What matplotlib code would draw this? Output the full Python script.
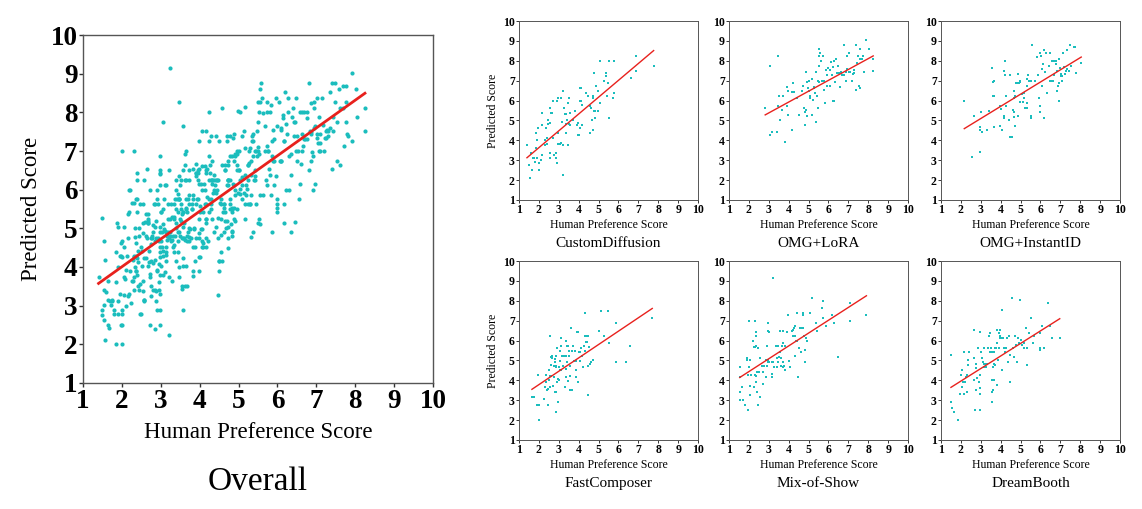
import matplotlib

matplotlib.use("Agg")
import matplotlib.pyplot as plt
import numpy as np

# per-method scatter data (human score, predicted score)
custom_x = [1.4, 1.5, 1.57, 1.6, 1.65, 1.7, 1.75, 1.8, 1.85, 1.85, 1.9, 1.9, 1.97, 2.0, 2.0, 2.1,
            2.15, 2.15, 2.15, 2.3, 2.33, 2.37, 2.4, 2.42, 2.45, 2.45, 2.55, 2.55, 2.55, 2.57, 2.62,
            2.67, 2.7, 2.72, 2.75, 2.87, 2.87, 2.9, 2.9, 2.97, 2.97, 2.97, 3.05, 3.1, 3.1, 3.18, 3.2,
            3.2, 3.22, 3.25, 3.3, 3.35, 3.35, 3.37, 3.4, 3.45, 3.47, 3.5, 3.5, 3.55, 3.58, 3.72, 3.8,
            3.9, 3.97, 3.97, 4.0, 4.05, 4.05, 4.08, 4.13, 4.13, 4.17, 4.18, 4.38, 4.47, 4.55, 4.55,
            4.63, 4.67, 4.72, 4.72, 4.73, 4.77, 4.78, 4.8, 4.82, 4.87, 4.97, 4.97, 5.05, 5.05, 5.28,
            5.35, 5.35, 5.4, 5.47, 5.52, 5.55, 5.72, 5.8, 5.8, 6.65, 6.87, 6.87, 7.77]
custom_y = [3.75, 2.75, 2.12, 3.35, 2.5, 3.12, 3.12, 2.9, 3.62, 4.38, 3.12, 4.0, 4.62, 2.88, 2.5, 3.0,
            5.38, 3.25, 4.75, 3.75, 4.0, 4.62, 3.8, 4.12, 5.0, 4.8, 4.88, 5.62, 3.38, 3.12, 5.38,
            5.38, 4.12, 6.0, 3.25, 3.12, 3.38, 6.0, 2.88, 6.12, 3.8, 4.38, 3.8, 6.12, 3.88, 4.9, 6.5,
            2.25, 3.75, 5.62, 5.3, 5.3, 4.38, 4.8, 5.0, 5.88, 3.75, 4.8, 6.12, 5.38, 4.75, 5.0, 5.5,
            4.75, 4.25, 4.88, 4.25, 6.0, 6.62, 4.62, 6.62, 6.0, 4.75, 5.8, 6.38, 6.25, 5.75, 4.38,
            5.62, 5.0, 6.25, 6.12, 4.5, 5.5, 7.38, 5.12, 5.5, 6.75, 6.5, 5.5, 5.88, 8.0, 7.0,
            7.4, 7.25, 6.25, 6.88, 8.0, 5.12, 6.12, 6.38, 8.0, 7.12, 7.5, 8.25, 7.75]

lora_x = [2.82, 3.06, 3.06, 3.14, 3.43, 3.48, 3.48, 3.53, 3.56, 3.66, 3.73, 3.82, 3.9, 3.93, 3.95,
          3.98, 4.15, 4.15, 4.24, 4.27, 4.4, 4.54, 4.66, 4.74, 4.78, 4.83, 4.83, 4.88, 4.91, 4.88,
          4.91, 4.95, 5.0, 5.0, 5.05, 5.08, 5.17, 5.17, 5.22, 5.25, 5.28, 5.33, 5.38, 5.38, 5.42,
          5.45, 5.45, 5.5, 5.52, 5.5, 5.55, 5.59, 5.55, 5.62, 5.67, 5.72, 5.76, 5.79, 5.84, 5.89,
          5.92, 5.92, 6.0, 6.06, 6.09, 6.14, 6.18, 6.23, 6.23, 6.26, 6.3, 6.35, 6.4, 6.43, 6.46,
          6.51, 6.6, 6.63, 6.68, 6.77, 6.8, 6.87, 6.9, 6.94, 6.94, 7.02, 7.02, 7.1, 7.19, 7.24,
          7.27, 7.31, 7.41, 7.41, 7.44, 7.48, 7.53, 7.58, 7.61, 7.61, 7.69, 7.75, 7.78, 7.91, 8.03,
          8.25, 8.25]
lora_y = [5.63, 7.76, 4.29, 4.4, 4.4, 8.26, 5.75, 6.25, 5.03, 5.53, 6.25, 3.9, 6.67, 5.75, 6.5,
          5.25, 6.42, 4.52, 6.87, 6.42, 6.13, 5.25, 6.5, 6.75, 5.63, 5.41, 4.79, 7.43, 6.92, 5.53,
          5.2, 6.64, 7.0, 6.5, 6.25, 6.13, 7.09, 5.25, 6.03, 6.64, 6.7, 6.37, 7.43, 4.91, 6.25,
          5.63, 7.0, 7.76, 6.92, 8.26, 8.6, 8.38, 8.26, 7.98, 7.0, 8.26, 7.0, 6.53, 5.87, 7.55,
          7.3, 6.75, 7.65, 6.75, 7.55, 7.93, 7.26, 7.71, 6.0, 8.01, 6.0, 6.92, 8.1, 7.38, 7.76,
          7.38, 6.67, 7.43, 7.3, 7.3, 8.77, 7.43, 6.98, 7.6, 8.26, 8.38, 7.43, 7.43, 7.0, 7.34,
          7.55, 7.38, 6.53, 8.77, 7.88, 8.26, 6.75, 8.6, 6.64, 8.1, 8.1, 8.26, 7.43, 9.02, 8.6,
          8.1, 7.51]

instant_x = [2.17, 2.56, 2.68, 2.95, 2.95, 2.98, 3.01, 3.06, 3.32, 3.4, 3.57, 3.62, 3.62, 3.65,
             3.65, 3.68, 3.95, 3.99, 4.02, 4.07, 4.15, 4.15, 4.15, 4.24, 4.24, 4.29, 4.29, 4.41,
             4.49, 4.49, 4.57, 4.62, 4.66, 4.66, 4.66, 4.69, 4.74, 4.74, 4.79, 4.83, 4.86, 4.89,
             4.91, 4.96, 4.96, 4.99, 5.08, 5.13, 5.16, 5.19, 5.24, 5.3, 5.3, 5.33, 5.33, 5.38, 5.41,
             5.5, 5.5, 5.53, 5.58, 5.75, 5.83, 5.87, 5.92, 5.97, 6.0, 6.0, 6.03, 6.08, 6.08, 6.13,
             6.17, 6.2, 6.25, 6.27, 6.34, 6.42, 6.47, 6.47, 6.54, 6.59, 6.64, 6.64, 6.67, 6.7, 6.76,
             6.76, 6.81, 6.84, 6.87, 6.92, 6.92, 6.94, 6.97, 7.01, 7.04, 7.09, 7.09, 7.14, 7.17,
             7.21, 7.26, 7.31, 7.34, 7.34, 7.43, 7.48, 7.54, 7.68, 7.76, 7.81, 8.05]
instant_y = [6.0, 3.15, 5.24, 4.66, 3.4, 4.52, 5.41, 4.41, 4.52, 5.5, 7.64, 6.25, 6.92, 6.25,
             7.0, 4.66, 5.75, 4.74, 5.58, 4.52, 7.51, 5.24, 5.13, 7.26, 8.01, 6.25, 5.75, 5.03,
             7.26, 4.15, 4.15, 5.53, 6.5, 5.41, 5.19, 6.13, 6.25, 4.74, 6.87, 6.87, 7.34, 5.24,
             6.87, 6.92, 7.0, 5.92, 6.34, 5.92, 6.37, 6.13, 5.63, 7.09, 5.63, 5.87, 6.75, 7.26, 7.0,
             7.0, 5.13, 5.24, 8.77, 7.0, 8.18, 7.26, 6.13, 8.38, 5.75, 5.41, 8.26, 7.6, 6.75, 7.85,
             5.13, 8.52, 7.43, 8.38, 6.37, 7.76, 8.38, 7.0, 7.0, 8.01, 7.0, 8.01, 8.01, 7.31, 8.01,
             7.85, 6.5, 7.51, 6.75, 6.87, 6.0, 8.1, 7.64, 7.34, 7.21, 7.0, 7.21, 8.38, 7.68,
             7.34, 7.51, 7.51, 8.52, 7.6, 7.51, 8.77, 7.76, 8.68, 8.68, 7.38, 7.88]

fast_x = [1.65, 1.74, 1.9, 2.0, 1.97, 2.0, 2.24, 2.29, 2.37, 2.37, 2.41, 2.46, 2.46, 2.49, 2.51,
          2.54, 2.56, 2.57, 2.59, 2.62, 2.62, 2.66, 2.68, 2.71, 2.74, 2.76, 2.79, 2.79, 2.81, 2.84,
          2.84, 2.84, 2.87, 2.87, 2.91, 2.93, 2.96, 2.98, 3.0, 3.0, 3.04, 3.06, 3.08, 3.09, 3.13,
          3.13, 3.18, 3.21, 3.24, 3.29, 3.35, 3.35, 3.38, 3.38, 3.41, 3.43, 3.46, 3.46, 3.5, 3.51,
          3.55, 3.55, 3.58, 3.63, 3.65, 3.68, 3.71, 3.75, 3.8, 3.85, 3.88, 3.88, 3.91, 3.96, 3.98,
          4.02, 4.05, 4.08, 4.13, 4.15, 4.22, 4.25, 4.3, 4.3, 4.32, 4.35, 4.38, 4.42, 4.45, 4.47,
          4.47, 4.52, 4.55, 4.63, 4.72, 5.02, 5.14, 5.25, 5.47, 5.55, 5.86, 5.86, 6.36, 6.56, 7.7]
fast_y = [3.15, 3.15, 2.78, 2.78, 4.29, 2.01, 3.06, 3.65, 4.29, 3.9, 3.52, 2.78, 3.57, 4.52, 4.02,
          3.65, 6.25, 4.24, 5.16, 4.79, 4.24, 5.2, 5.13, 3.73, 4.74, 4.15, 5.08, 4.91, 3.4, 3.4,
          4.66, 2.39, 5.2, 4.74, 3.9, 5.63, 4.07, 2.9, 4.66, 4.02, 4.52, 5.5, 4.99, 5.75, 6.13,
          4.52, 5.24, 4.74, 5.24, 3.65, 5.24, 4.57, 6.0, 4.15, 5.75, 4.91, 3.99, 5.75, 5.24, 5.5,
          4.74, 3.52, 4.24, 6.64, 5.5, 3.52, 5.75, 4.99, 5.5, 4.99, 4.15, 4.52, 6.42, 6.42, 3.9,
          5.41, 4.99, 5.41, 5.63, 5.24, 4.66, 5.75, 5.5, 7.38, 6.25, 5.92, 6.25, 5.92, 6.25, 3.28,
          4.74, 5.66, 4.82, 4.91, 5.03, 6.5, 7.51, 6.25, 7.51, 5.87, 6.87, 4.91, 4.91, 5.75, 7.14]

mix_x = [1.54, 1.54, 1.54, 1.57, 1.64, 1.71, 1.79, 1.88, 1.91, 1.96, 1.98, 1.99, 2.01, 2.05, 2.05,
         2.05, 2.13, 2.21, 2.25, 2.26, 2.3, 2.3, 2.32, 2.35, 2.35, 2.38, 2.38, 2.38, 2.38, 2.42,
         2.43, 2.47, 2.48, 2.52, 2.55, 2.58, 2.64, 2.69, 2.72, 2.77, 2.84, 2.85, 2.89, 2.92, 2.97,
         2.97, 2.99, 2.97, 2.97, 3.02, 3.14, 3.14, 3.14, 3.23, 3.23, 3.26, 3.36, 3.39, 3.43, 3.48,
         3.48, 3.53, 3.56, 3.56, 3.6, 3.6, 3.65, 3.7, 3.73, 3.73, 3.73, 3.77, 3.82, 3.82, 3.9,
         3.98, 4.04, 4.07, 4.15, 4.2, 4.24, 4.27, 4.32, 4.32, 4.32, 4.37, 4.41, 4.44, 4.49, 4.54,
         4.57, 4.61, 4.66, 4.71, 4.71, 4.74, 4.78, 4.83, 4.83, 4.88, 4.91, 5.08, 5.17, 5.38, 5.42,
         5.67, 5.72, 5.72, 5.89, 6.18, 6.3, 6.46, 7.07, 7.07, 7.91]
mix_y = [4.66, 3.4, 3.01, 4.19, 3.65, 3.01, 2.78, 5.13, 5.03, 4.29, 2.51, 7.0, 4.66, 5.03, 3.28,
         3.73, 4.29, 6.0, 5.66, 3.65, 4.29, 7.0, 5.66, 5.75, 3.9, 6.42, 4.24, 6.25, 5.75, 4.41,
         3.4, 5.63, 2.78, 4.41, 5.13, 3.15, 4.74, 4.41, 3.82, 4.74, 4.19, 5.03, 5.75, 4.74, 6.87,
         6.5, 6.42, 4.91, 5.03, 4.91, 4.32, 4.15, 4.91, 9.14, 4.91, 4.66, 5.75, 5.13, 4.66, 5.75,
         4.91, 5.19, 6.5, 5.41, 5.13, 4.74, 5.75, 4.91, 6.5, 4.66, 5.87, 4.74, 5.75, 4.52, 6.42,
         7.26, 4.99, 4.66, 6.5, 6.53, 6.25, 6.64, 6.75, 5.24, 6.25, 6.0, 7.38, 6.0, 4.15, 5.63,
         6.64, 5.41, 6.64, 7.38, 7.26, 6.64, 6.25, 5.53, 4.91, 6.13, 6.0, 7.38, 8.13, 6.87, 6.5,
         7.64, 8.01, 7.14, 6.75, 7.26, 6.87, 5.16, 7.88, 7.0, 7.26]

dream_x = [1.5, 1.5, 1.54, 1.67, 1.84, 1.94, 2.01, 2.06, 2.07, 2.11, 2.17, 2.17, 2.22, 2.28, 2.31,
           2.31, 2.34, 2.34, 2.39, 2.64, 2.68, 2.68, 2.73, 2.74, 2.74, 2.78, 2.81, 2.85, 2.9, 2.95,
           2.98, 2.98, 2.98, 2.98, 3.01, 3.06, 3.11, 3.15, 3.15, 3.18, 3.23, 3.28, 3.32, 3.35, 3.4,
           3.45, 3.48, 3.52, 3.55, 3.57, 3.57, 3.58, 3.62, 3.62, 3.65, 3.68, 3.68, 3.73, 3.73, 3.79,
           3.82, 3.82, 3.82, 3.85, 3.9, 3.9, 3.95, 3.99, 3.99, 4.04, 4.07, 4.09, 4.12, 4.15, 4.24,
           4.29, 4.32, 4.36, 4.41, 4.46, 4.49, 4.57, 4.62, 4.69, 4.74, 4.79, 4.83, 4.86, 4.91, 4.99,
           5.03, 5.08, 5.16, 5.19, 5.25, 5.3, 5.33, 5.41, 5.5, 5.63, 5.7, 5.97, 6.0, 6.0, 6.08,
           6.17, 6.37, 6.5, 6.59, 6.97]
dream_y = [5.27, 2.89, 2.62, 2.42, 2.0, 3.29, 4.27, 4.52, 3.68, 3.93, 5.41, 3.29, 3.9, 4.18, 4.27,
           3.4, 4.77, 5.02, 5.41, 6.53, 4.02, 5.14, 2.51, 3.51, 4.6, 4.8, 4.1, 5.64, 3.93, 3.6,
           6.41, 3.29, 2.51, 4.27, 5.41, 5.1, 4.94, 4.8, 4.69, 5.64, 4.8, 4.69, 4.8, 5.64, 6.24,
           5.41, 6.36, 5.64, 3.43, 2.89, 5.41, 4.02, 4.69, 3.51, 4.02, 5.41, 4.8, 5.64, 4.77, 5.64,
           5.86, 6.53, 3.76, 5.02, 5.64, 6.36, 6.24, 6.53, 6.14, 6.14, 7.53, 4.52, 6.14, 5.64, 5.41,
           5.64, 6.14, 4.9, 6.24, 5.27, 3.9, 8.12, 5.64, 5.19, 6.24, 5.77, 4.94, 6.14, 5.86, 8.04,
           6.02, 5.77, 5.64, 5.86, 6.64, 5.64, 4.77, 6.36, 7.11, 5.86, 6.24, 6.36, 5.64, 5.52, 6.74,
           5.64, 7.87, 6.74, 6.14, 6.14]

# fitted regression lines: (slope, intercept)
custom_fit = (0.846, 1.94)
lora_fit = (0.546, 3.74)
instant_fit = (0.612, 3.26)
fast_fit = (0.672, 2.44)
mix_fit = (0.645, 3.15)
dream_fit = (0.631, 2.70)
overall_fit = (0.718, 2.57)

panel_names = ["CustomDiffusion", "OMG+LoRA", "OMG+InstantID", "FastComposer", "Mix-of-Show", "DreamBooth"]
panel_x = [custom_x, lora_x, instant_x, fast_x, mix_x, dream_x]
panel_y = [custom_y, lora_y, instant_y, fast_y, mix_y, dream_y]
panel_fit = [custom_fit, lora_fit, instant_fit, fast_fit, mix_fit, dream_fit]

overall_x = [v for xs in panel_x for v in xs]
overall_y = [v for ys in panel_y for v in ys]

ticks = list(range(1, 11))
DOT = "#1bbdbd"
RED = "#e8211d"
SERIF = ["Liberation Serif", "DejaVu Serif"]

plt.rcParams["font.family"] = SERIF


def style_axes(ax, tick_size, spine_w):
    ax.set_xlim(1, 10)
    ax.set_ylim(1, 10)
    ax.set_xticks(ticks)
    ax.set_yticks(ticks)
    ax.tick_params(labelsize=tick_size, length=3, width=spine_w, pad=1, color="#333333")
    for lbl in ax.get_xticklabels() + ax.get_yticklabels():
        lbl.set_fontweight("bold")
    for sp in ax.spines.values():
        sp.set_color("#555555")
        sp.set_linewidth(spine_w)


def draw_fit(ax, xs, fit, lw):
    lo, hi = min(xs), max(xs)
    line_x = np.array([lo, hi])
    ax.plot(line_x, fit[0] * line_x + fit[1], color=RED, lw=lw)


fig = plt.figure(figsize=(11.42, 5.09), dpi=100)

# big overall panel
ax = fig.add_axes([83 / 1142, 1 - 383 / 509, 350 / 1142, 348 / 509])
ax.scatter(overall_x, overall_y, s=9, color=DOT, linewidths=0)
draw_fit(ax, overall_x, overall_fit, 2.0)
style_axes(ax, 19.5, 1.0)
ax.set_xlabel("Human Preference Score", fontsize=16.5, labelpad=6)
ax.set_ylabel("Predicted Score", fontsize=16.5, labelpad=6)
ax.text(0.5, -0.285, "Overall", transform=ax.transAxes, ha="center", va="center", fontsize=24)

# small panels
lefts = [519, 729, 941]
tops = [21, 261]
pw, ph = 179, 179
for i, name in enumerate(panel_names):
    r, c = divmod(i, 3)
    ax = fig.add_axes([lefts[c] / 1142, 1 - (tops[r] + ph) / 509, pw / 1142, ph / 509])
    ax.scatter(panel_x[i], panel_y[i], s=4, color=DOT, linewidths=0, marker="s")
    draw_fit(ax, panel_x[i], panel_fit[i], 1.0)
    style_axes(ax, 8.5, 0.7)
    ax.tick_params(length=2)
    ax.set_xlabel("Human Preference Score", fontsize=8.5, labelpad=2)
    if c == 0:
        ax.set_ylabel("Predicted Score", fontsize=8.5, labelpad=3)
    ax.text(0.5, -0.245, name, transform=ax.transAxes, ha="center", va="center", fontsize=11)

fig.savefig("out.png", dpi=100)
plt.close(fig)
